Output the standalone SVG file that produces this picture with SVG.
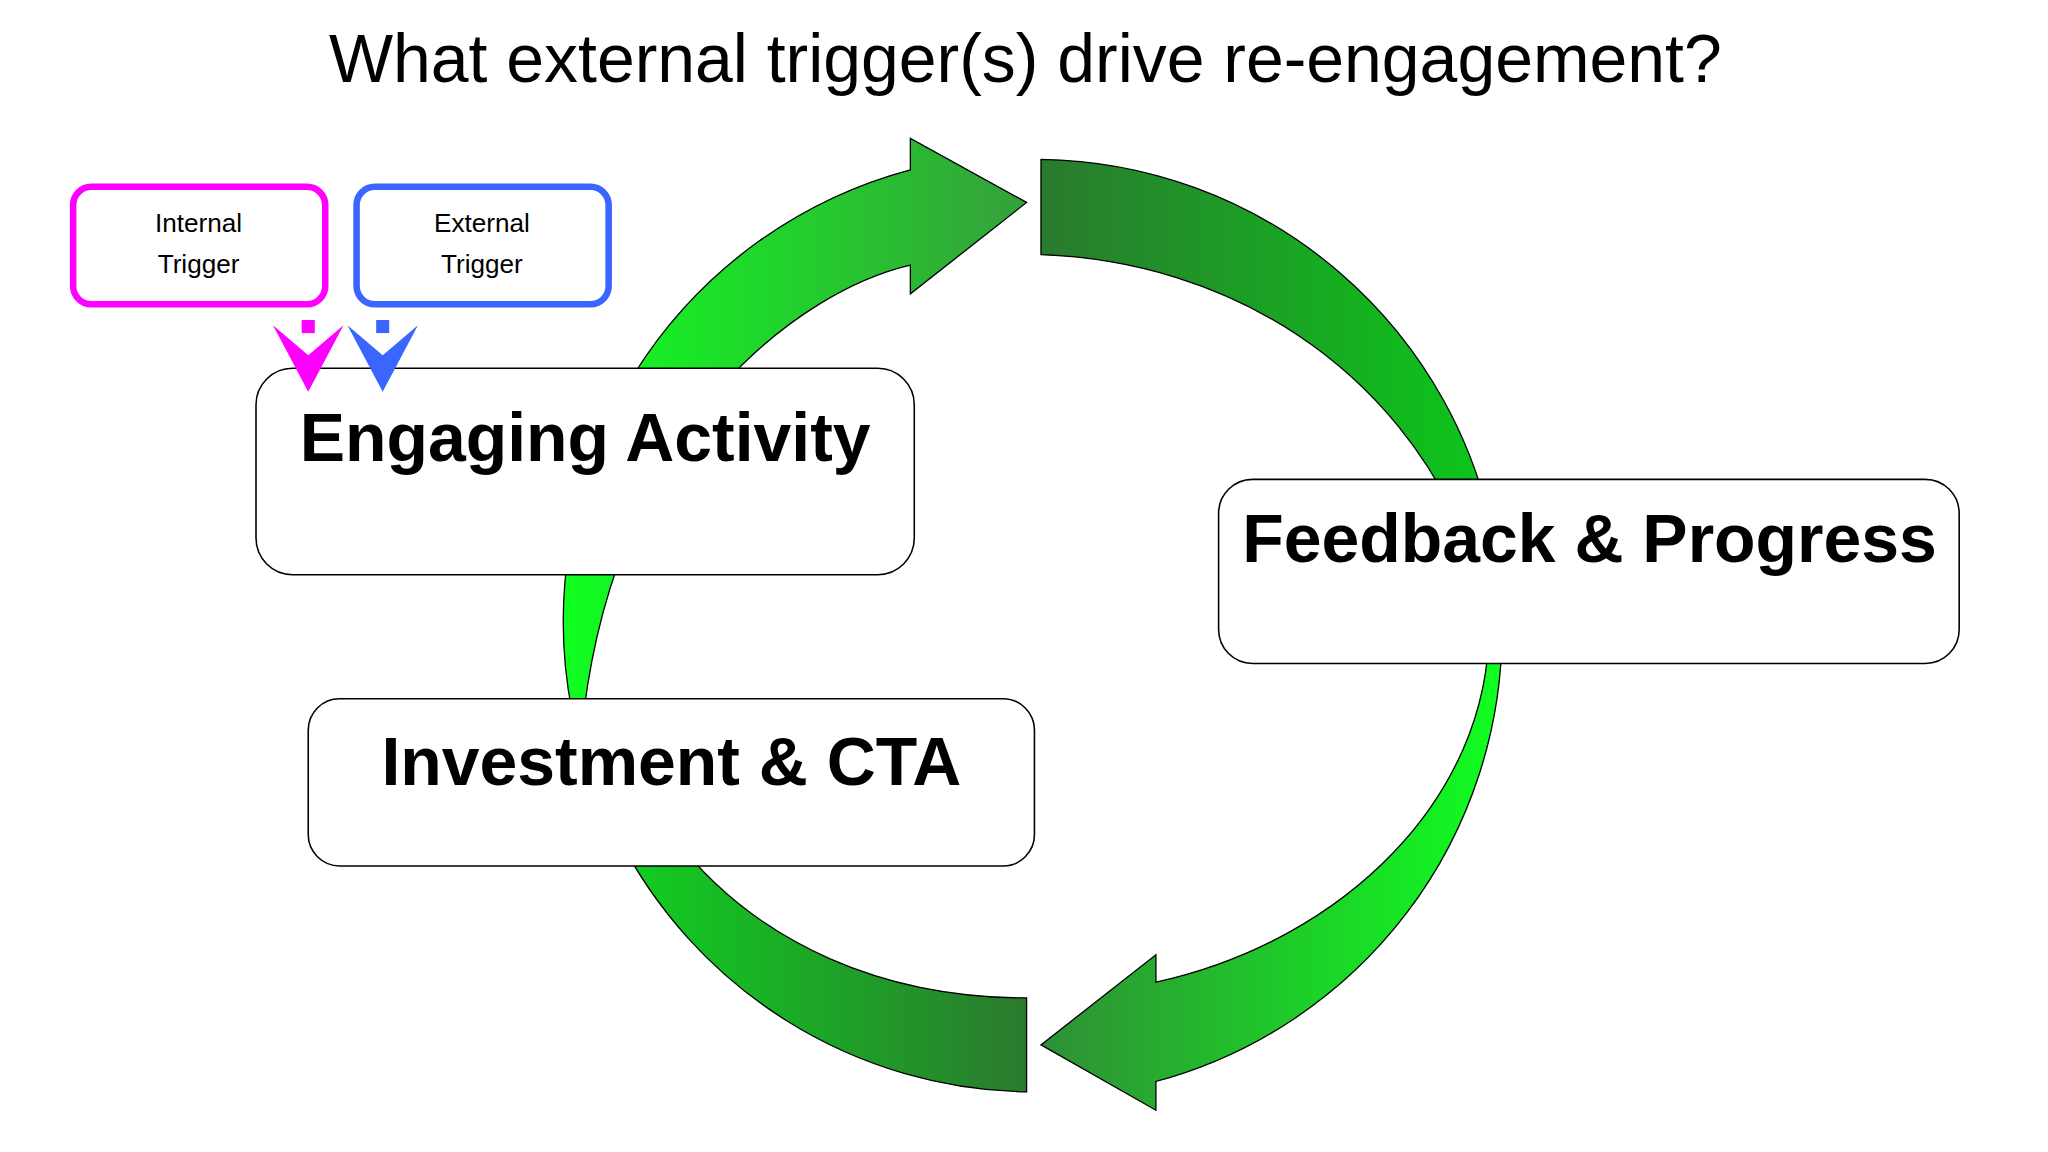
<svg xmlns="http://www.w3.org/2000/svg" width="2048" height="1152" viewBox="0 0 2048 1152">
<style>
.box{fill:#fff;stroke:#000;stroke-width:1.2}
.big{font-family:"Liberation Sans",Arial,sans-serif;font-weight:bold;font-size:52px;text-anchor:middle;fill:#000}
.sm{font-family:"Liberation Sans",Arial,sans-serif;font-size:20px;text-anchor:middle;fill:#000}
.arr{stroke:#000;stroke-width:1}
</style>
<defs>
<linearGradient id="gTL" x1="0" x2="1" y1="0" y2="0"><stop offset="0" stop-color="#10ff20"/><stop offset="1" stop-color="#35a03a"/></linearGradient>
<linearGradient id="gTR" x1="0" x2="1" y1="0" y2="0"><stop offset="0" stop-color="#2a7a2e"/><stop offset="1" stop-color="#0cc81a"/></linearGradient>
<linearGradient id="gBR" x1="0" x2="1" y1="0" y2="0"><stop offset="0" stop-color="#2f8f35"/><stop offset="1" stop-color="#10ff20"/></linearGradient>
<linearGradient id="gBL" x1="0" x2="1" y1="0" y2="0"><stop offset="0" stop-color="#10d020"/><stop offset="1" stop-color="#2a7a2e"/></linearGradient>
</defs>
<rect width="2048" height="1152" fill="#fff"/>
<g transform="scale(1.30612)">
<text x="785" y="63" font-family="Liberation Sans, Arial, sans-serif" font-size="52" text-anchor="middle">What external trigger(s) drive re-engagement?</text>
<g id="connectors">
<path class="arr" fill="url(#gTL)" d="M438,545 A358,358 0 0 1 697,130 L697,106 L786,155 L697,225 L697,203 C615,222 475,320 447,545 Z"/>
<path class="arr" fill="url(#gTR)" d="M797,122 A358,358 0 0 1 1145,420 L1125,420 C1070,280 940,200 797,195 Z"/>
<path class="arr" fill="url(#gBR)" d="M1150,480 A358,358 0 0 1 885,828 L885,850 L797,800 L885,731 L885,752 C1030,720 1140,610 1140,480 Z"/>
<path class="arr" fill="url(#gBL)" d="M473,640 A358,358 0 0 0 786,836 L786,764 C680,764 580,725 515,640 Z"/>
</g>
<g id="internal-trigger">
<rect x="56" y="143" width="193" height="90" rx="14" fill="#fff" stroke="#ff00ff" stroke-width="5"/>
<text class="sm" x="152" y="178">Internal</text>
<text class="sm" x="152" y="209">Trigger</text>
</g>
<g id="external-trigger">
<rect x="273" y="143" width="193" height="90" rx="14" fill="#fff" stroke="#3a66ff" stroke-width="5"/>
<text class="sm" x="369" y="178">External</text>
<text class="sm" x="369" y="209">Trigger</text>
</g>
<g id="engaging-activity">
<rect class="box" x="196" y="282" width="504" height="158" rx="28"/>
<text class="big" x="448" y="353">Engaging Activity</text>
</g>
<g id="feedback-progress">
<rect class="box" x="933" y="367" width="567" height="141" rx="26"/>
<text class="big" x="1217" y="430" font-size="48">Feedback &amp; Progress</text>
</g>
<g id="investment-cta">
<rect class="box" x="236" y="535" width="556" height="128" rx="24"/>
<text class="big" x="514" y="601">Investment &amp; CTA</text>
</g>
<g id="trigger-arrows">
<rect x="231" y="245" width="10" height="10" fill="#ff00ff"/>
<path d="M209,249 L236,272 L263,249 L236,300 Z" fill="#ff00ff"/>
<rect x="288" y="245" width="10" height="10" fill="#3a66ff"/>
<path d="M266,249 L293,272 L320,249 L293,300 Z" fill="#3a66ff"/>
</g>
</g>
</svg>
